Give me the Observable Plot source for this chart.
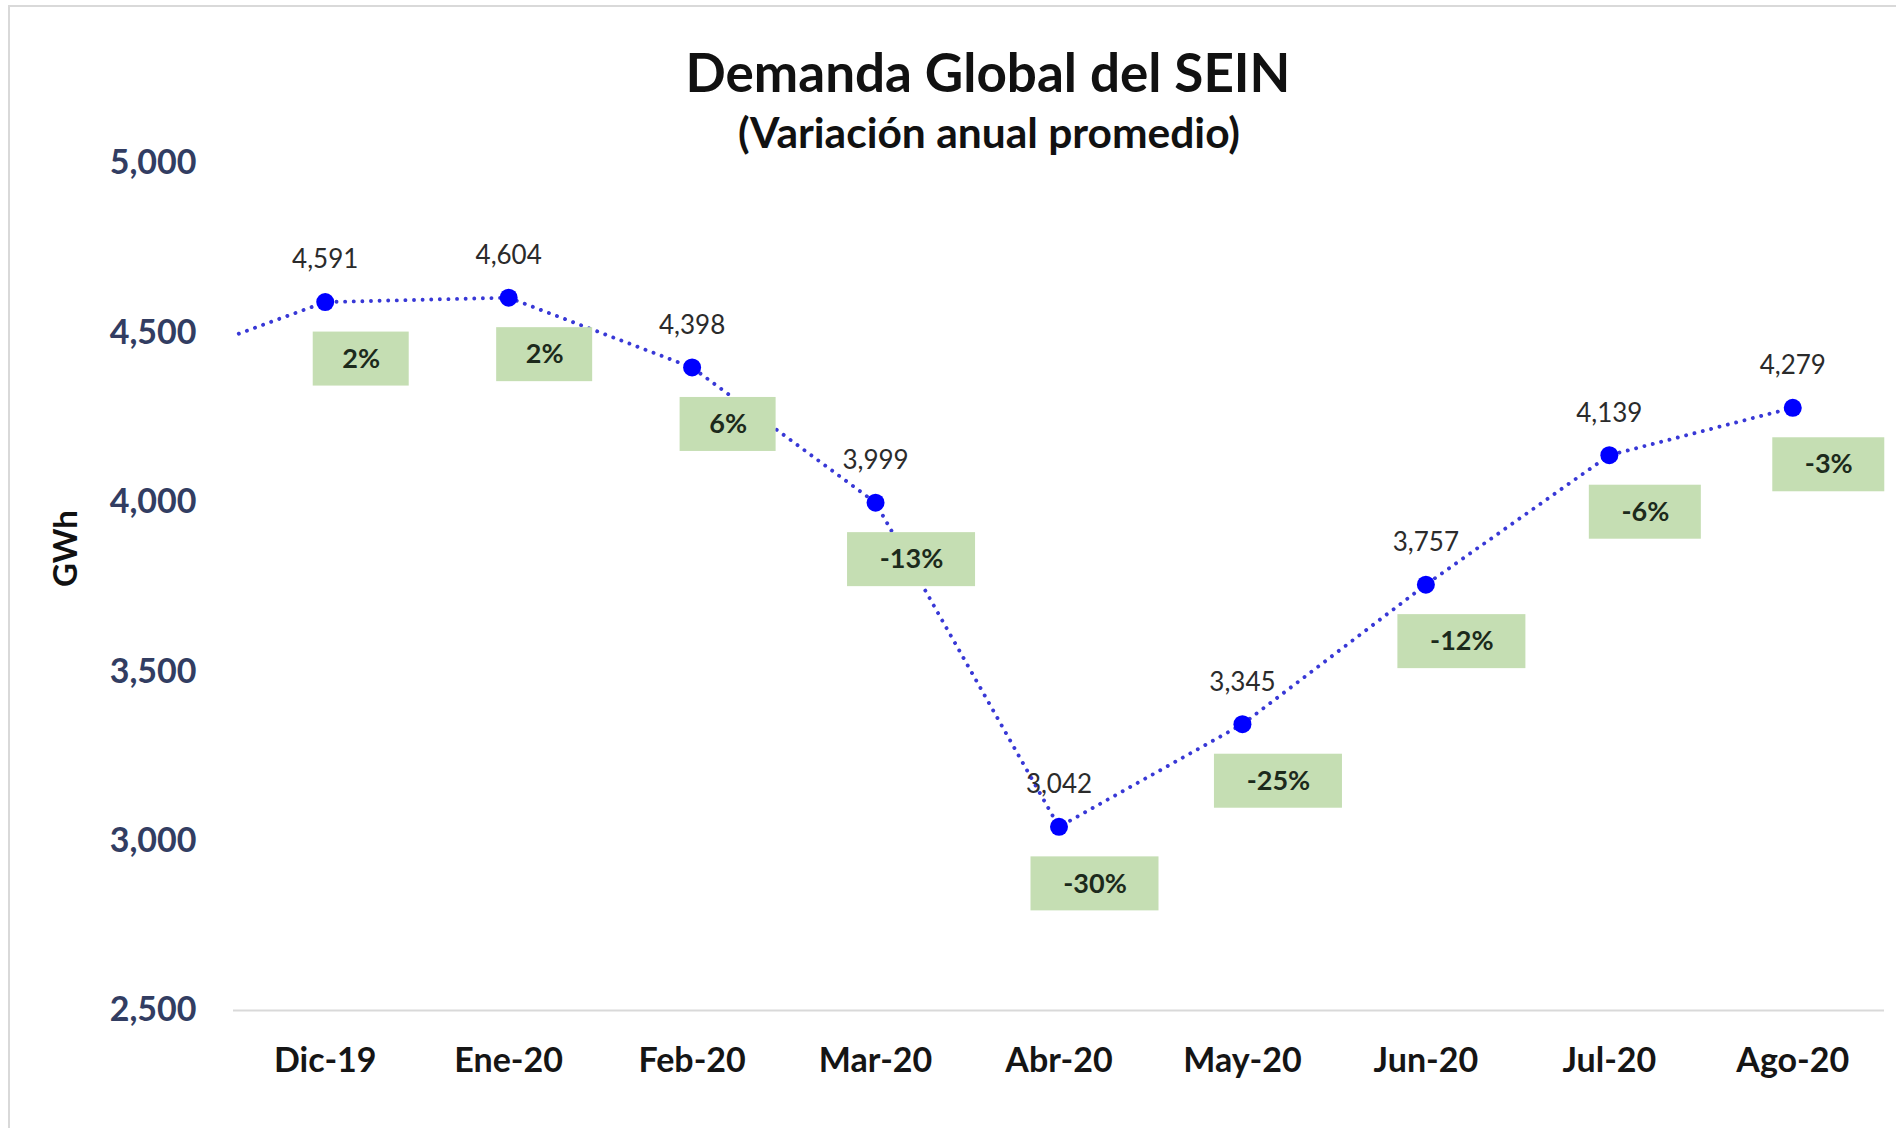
<!DOCTYPE html>
<html>
<head>
<meta charset="utf-8">
<script src="https://cdn.jsdelivr.net/npm/d3@7"></script>
<script src="https://cdn.jsdelivr.net/npm/@observablehq/plot@0.6"></script>
<style>
  html, body { margin: 0; padding: 0; background: #fff; }
  body { width: 1896px; height: 1128px; position: relative; overflow: hidden; font-family: Lato, "Open Sans", sans-serif; }
  #frame { position: absolute; left: 8px; top: 5px; width: 1900px; height: 1140px; border: 2px solid #d9d9d9; box-sizing: border-box; }
  #title { position: absolute; left: 988px; top: 45px; transform: translateX(-50%); white-space: nowrap; font-size: 53px; line-height: 53px; font-weight: 700; color: #111; }
  #subtitle { position: absolute; left: 989px; top: 111px; transform: translateX(-50%); white-space: nowrap; font-size: 42.5px; line-height: 42px; font-weight: 700; color: #111; }
  #chart { position: absolute; left: 0; top: 118px; }
  #chart svg { font-family: Lato, "Open Sans", sans-serif; }
  g[aria-label="y-axis tick label"] text { fill: #323d62; }
  g[aria-label="x-axis tick label"] text { fill: #151515; }
</style>
</head>
<body>
<div id="frame"></div>
<div id="title">Demanda Global del SEIN</div>
<div id="subtitle">(Variación anual promedio)</div>
<div id="chart"></div>
<script>
// ---- data ----
const months = ["Dic-19", "Ene-20", "Feb-20", "Mar-20", "Abr-20", "May-20", "Jun-20", "Jul-20", "Ago-20"];
const demand = [4591, 4604, 4398, 3999, 3042, 3345, 3757, 4139, 4279];
const variation = [2, 2, 6, -13, -30, -25, -12, -6, -3];
const prevMonth = "Nov-19";      // previous month, only its line segment is visible
const prevDemand = 4393;
const yTicks = [2500, 3000, 3500, 4000, 4500, 5000];
const yLabel = "GWh";

// ---- table ----
const rows = months.map((m, i) => ({i, month: m, value: demand[i], pct: variation[i] + "%"}));
const lineRows = [{i: -1, month: prevMonth, value: prevDemand}, ...rows];

// ---- styles ----
const BOX_DX = 36, BOX_DY = 57, BOX_H = 54;
const boxWidth = (s) => 64 + 16 * s.length;

const boxes = Plot.dot(rows, {
  x: "i", y: "value",
  render: (index, scales, values) => {
    const g = d3.create("svg:g").attr("aria-label", "pct-boxes");
    for (const k of index) {
      const w = boxWidth(rows[k].pct);
      g.append("rect")
        .attr("x", values.x[k] + BOX_DX - w / 2)
        .attr("y", values.y[k] + BOX_DY - BOX_H / 2)
        .attr("width", w)
        .attr("height", BOX_H)
        .attr("fill", "#c5deb3");
    }
    return g.node();
  }
});

const chart = Plot.plot({
  width: 1896,
  height: 1010,
  marginTop: 45,
  marginBottom: 118,
  marginLeft: 233,
  marginRight: 12,
  x: {type: "linear", domain: [-0.5, 8.5]},
  y: {domain: [2500, 5000]},
  marks: [
    Plot.ruleY([2500], {stroke: "#d9d9d9", strokeWidth: 2}),
    Plot.axisY({ticks: yTicks, tickSize: 0, tickPadding: 37, tickFormat: d3.format(","), fontSize: 34, fontWeight: 700, label: null}),
    Plot.axisX({ticks: d3.range(months.length), tickSize: 0, tickPadding: 37, tickFormat: (i) => months[i], fontSize: 34, fontWeight: 700, label: null}),
    Plot.text([yLabel], {frameAnchor: "left", rotate: -90, dx: -167, dy: 0, fontSize: 33, fontWeight: 700, fill: "#111"}),
    Plot.line(lineRows, {x: "i", y: "value", stroke: "#3838d6", strokeWidth: 3.9, strokeDasharray: "0.01 8.6", strokeLinecap: "round", clip: true}),
    boxes,
    Plot.text(rows, {x: "i", y: "value", text: "pct", dx: BOX_DX, dy: BOX_DY, fontSize: 27, fontWeight: 700, fill: "#1c2a1c"}),
    Plot.dot(rows, {x: "i", y: "value", r: 9, fill: "#0000ff", stroke: "none"}),
    Plot.text(rows, {x: "i", y: "value", text: (d) => d3.format(",")(d.value), dy: -42, fontSize: 26, fill: "#2b2b2b"})
  ]
});
document.getElementById("chart").appendChild(chart);
</script>
</body>
</html>
